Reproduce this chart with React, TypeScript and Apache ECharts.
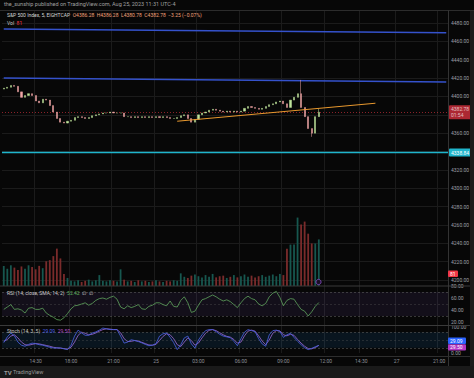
import React, { useEffect, useRef } from 'react';
import * as echarts from 'echarts';

// ---- data (15-minute bars) ----
const firstOpen = 4408;
const closes = [
  4409, 4410, 4412, 4411, 4405, 4399, 4401, 4403, 4401, 4395,
  4393, 4397, 4396, 4390, 4383, 4376, 4372, 4371, 4373, 4374,
  4377, 4378, 4377, 4376, 4377, 4379, 4380, 4381, 4382, 4382,
  4383, 4382, 4382, 4382, 4378, 4378, 4377, 4378, 4377, 4378,
  4377, 4378, 4377, 4378, 4377, 4378, 4377, 4376, 4376, 4377,
  4379, 4380, 4376, 4372, 4375, 4380, 4382, 4383, 4385, 4386,
  4385, 4384, 4383, 4384, 4383, 4384, 4383, 4384, 4387, 4389,
  4388, 4387, 4386, 4387, 4389, 4391, 4392, 4394, 4395, 4392,
  4388, 4396, 4399, 4403, 4388, 4378, 4365, 4360, 4378, 4382.78,
];
const highOverrides: [number, number][] = [[84, 4418], [89, 4387]];
const lowOverrides: [number, number][] = [[87, 4356]];
const volumes = [
  35, 30, 36, 32, 28, 34, 30, 36, 33, 29,
  35, 31, 43, 45, 52, 65, 48, 21, 14, 9,
  8, 10, 7, 9, 11, 8, 10, 19, 9, 8,
  10, 9, 8, 29, 11, 8, 9, 7, 10, 8,
  9, 7, 8, 10, 8, 7, 9, 8, 10, 9,
  22, 16, 14, 18, 20, 17, 15, 19, 16, 21,
  15, 17, 18, 14, 16, 19, 15, 17, 20, 16,
  18, 15, 17, 19, 16, 18, 20, 17, 21, 19,
  65, 72, 72, 119, 107, 112, 91, 74, 74, 81,
];
const rsi = [
  41, 45, 49, 41, 42, 40, 35, 43, 44, 41,
  41, 43, 35, 31, 28, 24, 23, 27, 34, 42,
  47, 48, 50, 52, 48, 51, 56, 59, 60, 58,
  61, 63, 58, 45, 42, 47, 44, 46, 49, 42,
  41, 46, 48, 52, 52, 49, 47, 55, 46, 45,
  56, 62, 52, 36, 38, 48, 57, 59, 62, 65,
  62, 58, 55, 57, 54, 49, 44, 52, 59, 63,
  59, 57, 50, 47, 51, 62, 68, 71, 61, 47,
  56, 59, 58, 49, 41, 38, 30, 37, 46, 52.42,
];
const stochK = [
  40, 62, 77, 66, 42, 30, 26, 33, 38, 36,
  32, 30, 26, 22, 19, 19, 19, 16, 13, 30,
  65, 88, 77, 68, 68, 77, 81, 88, 96, 93,
  90, 90, 90, 65, 38, 42, 51, 48, 44, 39,
  33, 28, 30, 36, 65, 74, 77, 60, 40, 13,
  32, 58, 65, 35, 19, 50, 70, 86, 90, 90,
  82, 72, 65, 62, 59, 45, 28, 55, 80, 90,
  86, 82, 55, 35, 26, 70, 86, 88, 83, 60,
  70, 76, 60, 45, 32, 20, 13, 18, 24, 29.09,
];
const stochD = [
  45, 52, 65, 70, 58, 42, 32, 30, 33, 36,
  35, 32, 29, 26, 22, 20, 19, 17, 15, 22,
  42, 68, 80, 76, 70, 72, 77, 84, 90, 93,
  92, 90, 90, 78, 55, 44, 45, 48, 46, 41,
  36, 31, 30, 33, 48, 64, 74, 70, 55, 32,
  25, 42, 58, 48, 30, 38, 58, 76, 87, 90,
  86, 78, 70, 64, 61, 52, 38, 42, 66, 84,
  88, 84, 66, 46, 32, 50, 76, 86, 85, 70,
  66, 72, 68, 52, 38, 26, 17, 16, 21, 29.5,
];
const tickKeys = ['08-24 14:30', '08-24 18:00', '08-24 21:00', '08-25 00:00', '08-25 03:00', '08-25 06:00', '08-25 09:00', '08-25 12:00', '08-25 14:30', '08-27 18:00', '08-27 21:00'];
const tickLabels = ['14:30', '18:00', '21:00', '25', '03:00', '06:00', '09:00', '12:00', '14:30', '27', '21:00'];
const blueUpper: [number, number][] = [[0, 4473.5], [125, 4469.3]];
const blueLower: [number, number][] = [[0, 4420.1], [125, 4415.7]];
const orangeTrend: [number, number][] = [[49, 4373.0], [105, 4392.6]];
const lastPrice = 4382.78;
const supportLevel = 4338.84;
const lastVolume = 81;
const lastRsi = 52.42;
const lastK = 29.09;
const lastD = 29.5;
const BAR_COUNT = 126;

const pad = (n: number) => String(n).padStart(2, '0');
function buildCategories(n: number): string[] {
  const out: string[] = [];
  let t = Date.UTC(2023, 7, 24, 12, 15);
  while (out.length < n) {
    const d = new Date(t);
    const h = d.getUTCHours();
    const day = d.getUTCDate();
    if ((day === 25 && h >= 17) || day === 26 || (day === 27 && h < 18)) {
      t = Date.UTC(2023, 7, 27, 18, 0);
      continue;
    }
    if (h === 17) {
      t = Date.UTC(2023, 7, day, 18, 0);
      continue;
    }
    out.push(`${pad(d.getUTCMonth() + 1)}-${pad(day)} ${pad(h)}:${pad(d.getUTCMinutes())}`);
    t += 15 * 60000;
  }
  return out;
}

const FONT = 'Roboto, "Liberation Sans", sans-serif';
const UP = '#bfe39a';
const DOWN = '#f1a6a6';

export default function App() {
  const ref = useRef<HTMLDivElement>(null);
  useEffect(() => {
    document.body.style.margin = '0';
    if (!ref.current) return;
    const chart = echarts.init(ref.current, null, { renderer: 'svg', width: 474, height: 378 });
    const cats = buildCategories(BAR_COUNT);
    const opens = closes.map((c, i) => (i === 0 ? firstOpen : closes[i - 1]));
    const hiMap = new Map(highOverrides);
    const loMap = new Map(lowOverrides);
    const ohlc = closes.map((c, i) => {
      const o = opens[i];
      const hi = hiMap.has(i) ? hiMap.get(i)! : Math.max(o, c);
      const lo = loMap.has(i) ? loMap.get(i)! : Math.min(o, c);
      return [o, c, lo, hi];
    });
    const volData = volumes.map((v, i) => ({
      value: v,
      itemStyle: { color: closes[i] >= opens[i] ? '#17574f' : '#7a2b2b' },
    }));
    const isTick = (_i: number, v: string) => tickKeys.includes(v);
    const gridLine = '#1b1b1b';
    const priceLineColors = Array.from({ length: 17 }, (_, i) => (i === 0 || i === 16 ? 'rgba(0,0,0,0)' : gridLine));
    const grids = [
      { left: 2, right: 26, top: 4.64, height: 293.76 },
      { left: 2, right: 26, top: 10, height: 276 },
      { left: 2, right: 26, top: 286, height: 48 },
      { left: 2, right: 26, top: 327, height: 26 },
    ].map((g) => ({ ...g, outerBoundsMode: 'none', containLabel: false }));
    const xBase = (idx: number, labels: boolean, split: boolean) => ({
      type: 'category',
      gridIndex: idx,
      data: cats,
      boundaryGap: true,
      axisLine: { show: false },
      axisTick: { show: false },
      axisLabel: labels
        ? {
            show: true,
            interval: isTick,
            formatter: (v: string) => tickLabels[tickKeys.indexOf(v)] ?? '',
            color: '#8d9097',
            fontSize: 5,
            fontFamily: FONT,
            margin: 5,
          }
        : { show: false },
      splitLine: split ? { show: true, interval: isTick, lineStyle: { color: gridLine, width: 1 } } : { show: false },
    });
    const axisLabelStyle = { color: '#9d9fa5', fontSize: 5, fontFamily: FONT, margin: 3 };
    // labels hidden behind the price tags, as in the reference
    const coveredByTag = (v: number) => Math.abs(v - lastPrice) < 6 || Math.abs(v - supportLevel) < 6;
    const tag = (bg: string, text: string) => ({
      show: true,
      position: 'end',
      formatter: text,
      backgroundColor: bg,
      color: '#ffffff',
      fontSize: 5,
      fontFamily: FONT,
      padding: [1, 2, 1, 2],
      lineHeight: 6,
      distance: 1,
      borderRadius: 1,
    });
    const dashed = (v: number, op = 1) => ({
      yAxis: v,
      lineStyle: { color: '#5a5a5a', type: [2, 2], width: 0.6, opacity: op },
      label: { show: false },
    });

    chart.setOption({
      animation: false,
      backgroundColor: '#070707',
      grid: grids,
      xAxis: [xBase(0, false, false), xBase(1, false, true), xBase(2, false, true), xBase(3, true, true)],
      yAxis: [
        {
          type: 'value', gridIndex: 0, position: 'right', min: 4180, max: 4500, interval: 20,
          axisLine: { show: false }, axisTick: { show: false },
          axisLabel: { ...axisLabelStyle, formatter: (v: number) => (v === 4180 || v === 4500 || coveredByTag(v) ? '' : v.toFixed(2)) },
          splitLine: { show: true, lineStyle: { color: priceLineColors, width: 1 } },
        },
        { type: 'value', gridIndex: 1, min: 0, max: 480, show: false },
        {
          type: 'value', gridIndex: 2, position: 'right', min: 0, max: 80, interval: 20,
          axisLine: { show: false }, axisTick: { show: false },
          axisLabel: { ...axisLabelStyle, formatter: (v: number) => (v === 0 ? '' : v.toFixed(2)) },
          splitLine: { show: false },
        },
        {
          type: 'value', gridIndex: 3, position: 'right', min: 0, max: 100, interval: 100,
          axisLine: { show: false }, axisTick: { show: false },
          axisLabel: { ...axisLabelStyle, formatter: (v: number) => v.toFixed(2) },
          splitLine: { show: false },
        },
      ],
      series: [
        {
          type: 'bar', xAxisIndex: 1, yAxisIndex: 1, data: volData, barWidth: 1.8, silent: true, z: 1,
        },
        {
          type: 'candlestick', xAxisIndex: 0, yAxisIndex: 0, data: ohlc, barWidth: 1.6, z: 5,
          itemStyle: { color: UP, color0: DOWN, borderColor: UP, borderColor0: DOWN, borderWidth: 0.5 },
          markLine: {
            silent: true, symbol: 'none',
            data: [
              { yAxis: lastPrice, lineStyle: { color: '#f23645', type: [1, 2], width: 0.8, opacity: 0.7 }, label: tag('#f23645', `${lastPrice.toFixed(2)}\n01:54`) },
              { yAxis: supportLevel, lineStyle: { color: '#1fb5cc', type: 'solid', width: 1.4 }, label: tag('#1fb5cc', supportLevel.toFixed(2)) },
            ],
          },
        },
        {
          type: 'line', xAxisIndex: 0, yAxisIndex: 0, data: blueUpper, symbol: 'none', silent: true,
          lineStyle: { color: '#3552cc', width: 1.4 }, z: 4,
        },
        {
          type: 'line', xAxisIndex: 0, yAxisIndex: 0, data: blueLower, symbol: 'none', silent: true,
          lineStyle: { color: '#3552cc', width: 1.4 }, z: 4,
        },
        {
          type: 'line', xAxisIndex: 0, yAxisIndex: 0, data: orangeTrend, symbol: 'none', silent: true,
          lineStyle: { color: '#e8982e', width: 1 }, z: 6,
        },
        {
          type: 'line', xAxisIndex: 2, yAxisIndex: 2, data: rsi, symbol: 'none', silent: true,
          lineStyle: { color: '#5fa45d', width: 0.8 }, z: 5,
          markArea: { silent: true, itemStyle: { color: 'rgba(126,87,194,0.10)' }, data: [[{ yAxis: 30 }, { yAxis: 70 }]] },
          markLine: {
            silent: true, symbol: 'none',
            data: [
              dashed(70), dashed(50, 0.6), dashed(30),
              { yAxis: lastRsi, lineStyle: { opacity: 0 }, label: tag('#3f9c48', lastRsi.toFixed(2)) },
            ],
          },
        },
        {
          type: 'line', xAxisIndex: 3, yAxisIndex: 3, data: stochD, symbol: 'none', silent: true,
          lineStyle: { color: '#9d6ad8', width: 0.8 }, z: 4,
          markArea: { silent: true, itemStyle: { color: 'rgba(33,150,243,0.10)' }, data: [[{ yAxis: 20 }, { yAxis: 80 }]] },
          markLine: { silent: true, symbol: 'none', data: [dashed(80), dashed(50, 0.6), dashed(20)] },
        },
        {
          type: 'line', xAxisIndex: 3, yAxisIndex: 3, data: stochK, symbol: 'none', silent: true,
          lineStyle: { color: '#4a62e6', width: 0.8 }, z: 5,
        },
      ],
      graphic: [
        { type: 'rect', shape: { x: 0, y: 366, width: 474, height: 12 }, style: { fill: '#1a1a1a' }, z: 50 },
        { type: 'rect', shape: { x: 470, y: 10, width: 4, height: 356 }, style: { fill: '#1c1c1c' }, z: 50 },
        { type: 'line', shape: { x1: 0, y1: 10.5, x2: 474, y2: 10.5 }, style: { stroke: '#2c2c2c', lineWidth: 1 }, z: 50 },
        { type: 'line', shape: { x1: 448.5, y1: 10, x2: 448.5, y2: 366 }, style: { stroke: '#333333', lineWidth: 1 }, z: 50 },
        { type: 'line', shape: { x1: 0, y1: 286, x2: 470, y2: 286 }, style: { stroke: '#3a3a3a', lineWidth: 1 }, z: 50 },
        { type: 'line', shape: { x1: 0, y1: 325.5, x2: 470, y2: 325.5 }, style: { stroke: '#3a3a3a', lineWidth: 1 }, z: 50 },
        { type: 'line', shape: { x1: 0, y1: 356.5, x2: 470, y2: 356.5 }, style: { stroke: '#2e2e2e', lineWidth: 1 }, z: 50 },
        {
          type: 'text', x: 4, y: 4, z: 60,
          style: { text: 'the_sunship published on TradingView.com, Aug 25, 2023 11:31 UTC-4', fill: '#a0a0a0', fontSize: 5.5, fontFamily: FONT, verticalAlign: 'middle' },
        },
        {
          type: 'text', x: 7, y: 15, z: 60,
          style: {
            text: '{a|S&P 500 Index, 5, EIGHTCAP}  {b|O4386.28  H4386.28  L4380.78  C4382.78  −3.25 (−0.07%)}',
            fontSize: 5, fontFamily: FONT, verticalAlign: 'middle',
            rich: { a: { fill: '#d6d6d6', fontSize: 5, fontFamily: FONT }, b: { fill: '#f2a27a', fontSize: 5, fontFamily: FONT } },
          },
        },
        {
          type: 'text', x: 7, y: 22.5, z: 60,
          style: {
            text: `{a|Vol}  {b|${lastVolume}}`, fontSize: 5, fontFamily: FONT, verticalAlign: 'middle',
            rich: { a: { fill: '#c8c8c8', fontSize: 5, fontFamily: FONT }, b: { fill: '#f23645', fontSize: 5, fontFamily: FONT } },
          },
        },
        {
          type: 'text', x: 7, y: 292.5, z: 60,
          style: {
            text: `{a|RSI (14, close, SMA, 14, 2)}  {b|${lastRsi.toFixed(2)}}  {a|∅  ∅}`, fontSize: 5, fontFamily: FONT, verticalAlign: 'middle',
            rich: { a: { fill: '#c8c8c8', fontSize: 5, fontFamily: FONT }, b: { fill: '#5fb35c', fontSize: 5, fontFamily: FONT } },
          },
        },
        {
          type: 'text', x: 7, y: 330.5, z: 60,
          style: {
            text: `{a|Stoch (14, 3, 5)}  {b|${lastK.toFixed(2)}}  {c|${lastD.toFixed(2)}}`, fontSize: 5, fontFamily: FONT, verticalAlign: 'middle',
            rich: { a: { fill: '#c8c8c8', fontSize: 5, fontFamily: FONT }, b: { fill: '#4a62e6', fontSize: 5, fontFamily: FONT }, c: { fill: '#b04fc4', fontSize: 5, fontFamily: FONT } },
          },
        },
        { type: 'rect', shape: { x: 448, y: 270.5, width: 10, height: 6.5, r: 1 }, style: { fill: '#f23645' }, z: 60 },
        { type: 'text', x: 450, y: 273.8, z: 61, style: { text: String(lastVolume), fill: '#ffffff', fontSize: 5, fontFamily: FONT, verticalAlign: 'middle' } },
        { type: 'rect', shape: { x: 448, y: 337.5, width: 18, height: 6.5, r: 1 }, style: { fill: '#2962ff' }, z: 60 },
        { type: 'text', x: 450, y: 340.8, z: 61, style: { text: lastK.toFixed(2), fill: '#ffffff', fontSize: 5, fontFamily: FONT, verticalAlign: 'middle' } },
        { type: 'rect', shape: { x: 448, y: 344.2, width: 18, height: 6.2, r: 1 }, style: { fill: '#b136c4' }, z: 60 },
        { type: 'text', x: 450, y: 347.3, z: 61, style: { text: lastD.toFixed(2), fill: '#ffffff', fontSize: 5, fontFamily: FONT, verticalAlign: 'middle' } },
        { type: 'circle', shape: { cx: 318.5, cy: 282, r: 2.6 }, style: { fill: '#1a0f24', stroke: '#8e4fd0', lineWidth: 0.8 }, z: 60 },
        { type: 'text', x: 4, y: 372, z: 60, style: { text: 'TV', fill: '#9a9a9a', fontSize: 6, fontWeight: 'bold', fontFamily: FONT, verticalAlign: 'middle' } },
        { type: 'text', x: 13, y: 372, z: 60, style: { text: 'TradingView', fill: '#9a9a9a', fontSize: 5.5, fontFamily: FONT, verticalAlign: 'middle' } },
      ],
    });
    return () => chart.dispose();
  }, []);
  return <div ref={ref} style={{ width: 474, height: 378, background: '#070707' }} />;
}
